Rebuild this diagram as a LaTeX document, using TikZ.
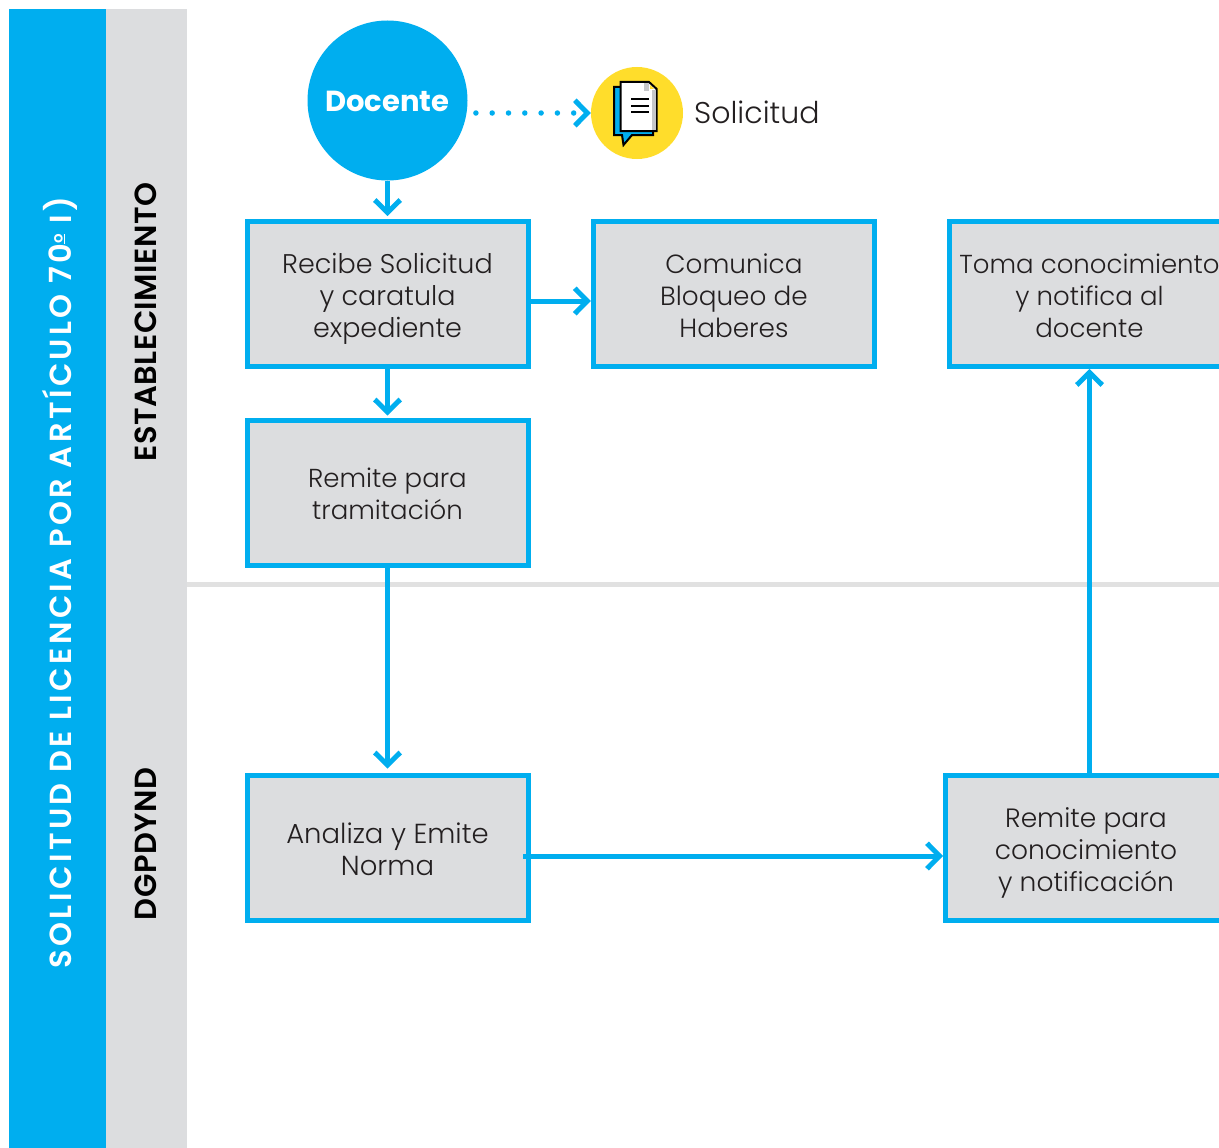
\documentclass[tikz,border=0pt]{standalone}
\usepackage{fontspec}
\setmainfont{Poppins}[UprightFont=* Light,BoldFont=* Bold]
\newfontfamily\titulofont{Poppins SemiBold}[LetterSpace=11.2]
\newfontfamily\carrilfont{Poppins SemiBold}[LetterSpace=1.5]
\usetikzlibrary{arrows.meta,shapes.geometric}
\definecolor{azul}{HTML}{00AEEF}
\definecolor{gris}{HTML}{DCDDDF}
\definecolor{linea}{HTML}{E1E1E1}
\definecolor{amarillo}{HTML}{FFDD2B}
\definecolor{tinta}{HTML}{231F20}
\newcommand\primera{\rule[-9.6pt]{0pt}{43pt}}
\newcommand\resto{\rule[-9.6pt]{0pt}{32pt}}
\newcommand\cuerpo[1]{\fontsize{#1}{32}\selectfont}
\tikzset{
  x=1pt,y=-1pt,
  caja/.style={draw=azul,fill=gris,line width=5pt,minimum width=281pt,minimum height=145pt,inner sep=0pt,align=center,text=tinta},
  flecha/.style={draw=azul,line width=5pt,-{Straight Barb[length=12.5pt,width=25.5pt,line width=5pt]}},
  puntos/.style={draw=azul,line width=5.5pt,line cap=round,dash pattern=on 0pt off 16.3pt,-{Straight Barb[length=12.5pt,width=25.5pt,line width=5pt,line cap=butt]}},
  carril/.style={rotate=90,font=\carrilfont\fontsize{30.5}{34}\selectfont,inner sep=0pt},
}
\begin{document}
\begin{tikzpicture}
\clip (0,0) rectangle (1219,1148);
\fill[white] (0,0) rectangle (1219,1148);
\fill[azul] (9,9) rectangle (106,1148);
\fill[gris] (106,9) rectangle (187,1148);
\draw[linea,line width=5pt] (187,584) -- (1219,584);
\node[rotate=90,inner sep=0pt,text=white,font=\titulofont\fontsize{30.5}{34}\selectfont] (titulo) at (60,582.5) {SOLICITUD DE LICENCIA POR ARTÍCULO 70\raisebox{9pt}{\fontsize{15}{15}\selectfont\underline{o}} I)};
\node[carril,text=black] (est) at (146,322) {ESTABLECIMIENTO};
\node[carril,text=black] (dgp) at (146,844) {DGPDYND};

\node[circle,fill=azul,minimum size=160pt,inner sep=0pt,text=white,font=\bfseries\fontsize{29}{30}\selectfont] (docente) at (387.5,100.5) {\raisebox{-10.5pt}[0pt][0pt]{Docente}};
\node[circle,fill=amarillo,minimum size=92pt,inner sep=0pt] (icono) at (637,113) {};
\node[anchor=west,inner sep=0pt,text=tinta,font=\fontsize{30}{32}\selectfont] (solicitud) at (694,112) {Solicitud};

% icono
\draw[black,line width=2pt,fill=azul,line join=miter] (614,87) -- (653,87) -- (653,135) -- (632,135) -- (623.5,145) -- (622,135) -- (614,135) -- cycle;
\draw[black,line width=2pt,fill=white] (620.7,82) -- (649,82) -- (656.7,89) -- (656.7,131) -- (620.7,131) -- cycle;
\fill[gris!90!black] (651.5,90) -- (655.7,90) -- (655.7,130) -- (651.5,130) -- cycle;
\fill[gris!90!black] (644,83) -- (649,83) -- (649,91) -- (644,91) -- cycle;
\fill[amarillo] (650,85) -- (654,89) -- (650,89) -- cycle;
\draw[black,line width=2pt] (631,99) -- (648.7,99) (631,105.7) -- (648.7,105.7) (631,112.3) -- (648.7,112.3);

\node[caja,font=\cuerpo{27}] (recibe) at (387.5,294) {\primera Recibe Solicitud\\\resto y caratula\\\resto expediente};
\node[caja,font=\cuerpo{26.3},minimum width=281.5pt] (comunica) at (734,294) {\primera Comunica\\\resto Bloqueo de\\\resto Haberes};
\node[caja,font=\cuerpo{26}] (toma) at (1089.5,294) {\primera Toma conocimiento\\\resto y notifica al\\\resto docente};
\node[caja,font=\cuerpo{26}] (remite) at (387.5,493) {\rule[-9.6pt]{0pt}{41pt}Remite para\\\resto tramitación};
\node[caja,font=\cuerpo{27.5}] (analiza) at (387.5,847.5) {\primera Analiza y Emite\\\resto Norma};
\node[caja,font=\cuerpo{26.5}] (conoc) at (1086,847.5) {\primera Remite para\\\resto conocimiento\\\resto y notificación};

\coordinate (salida) at (523,856);
\coordinate (lateral) at (530,301);
\draw[puntos] ([xshift=8.2pt]docente.east |- icono.west) -- (icono.west);
\draw[flecha,shorten >=3pt] (docente.south) -- (recibe.north);
\draw[flecha] (recibe.east |- lateral) -- (comunica.west |- lateral);
\draw[flecha,shorten >=2.5pt] (recibe.south) -- (remite.north);
\draw[flecha,shorten >=4pt] (remite.south) -- (analiza.north);
\draw[flecha] (salida) -- (conoc.west |- salida);
\draw[flecha] (toma.south |- conoc.north) -- (toma.south);
\end{tikzpicture}
\end{document}
